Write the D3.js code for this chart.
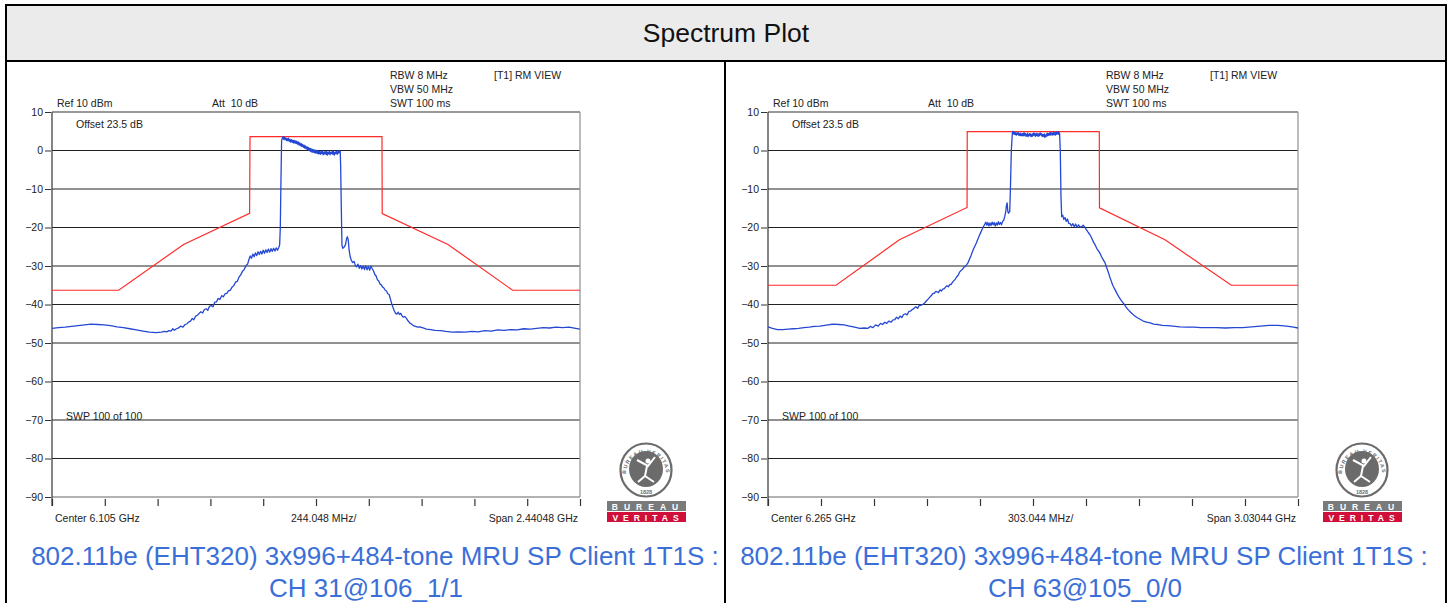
<!DOCTYPE html>
<html><head><meta charset="utf-8">
<script src="https://cdn.jsdelivr.net/npm/d3@7"></script>
<style>
body{margin:0;background:#fff;}
svg{display:block;font-family:"Liberation Sans",Arial,Helvetica,sans-serif;}
</style>
</head><body>
<svg id="chart" width="1450" height="603"></svg>
<script>
// ---------------- DATA ----------------
const chartTitle = "Spectrum Plot";
const yTickValues = [10, 0, -10, -20, -30, -40, -50, -60, -70, -80, -90];
const centerLabels = ["Center 6.105 GHz", "Center 6.265 GHz"];
const perDivLabels = ["244.048 MHz/", "303.044 MHz/"];
const spanLabels = ["Span 2.44048 GHz", "Span 3.03044 GHz"];
const spansMHz = [2440.48, 3030.44];
const captionLine1 = ["802.11be (EHT320) 3x996+484-tone MRU SP Client 1T1S :", "802.11be (EHT320) 3x996+484-tone MRU SP Client 1T1S :"];
const captionLine2 = ["CH 31@106_1/1", "CH 63@105_0/0"];
const infoLeft = ["Ref 10 dBm", "Att  10 dB", "Offset 23.5 dB", "SWP 100 of 100"];
const infoRight = ["RBW 8 MHz", "VBW 50 MHz", "SWT 100 ms", "[T1] RM VIEW"];

// limit masks: [offset from center MHz, dBm]
const maskLeft = [[-1220.24,-36.3],[-912,-36.3],[-612,-24.4],[-307,-16.3],[-305,3.6],[305,3.6],[306,-16.4],[610,-24.4],[909,-36.3],[1220.24,-36.3]];
const maskRight = [[-1515.22,-35.0],[-1126,-35.0],[-764,-23.2],[-377,-14.8],[-376,4.9],[379,4.9],[380,-14.9],[755,-23.2],[1134,-35.0],[1515.22,-35.0]];

// measured traces: [offset from center MHz, dBm]
const traceLeft = [[-1220,-46.2],[-1190,-46.0],[-1160,-45.9],[-1130,-45.7],[-1100,-45.5],[-1070,-45.3],[-1040,-45.1],[-1010,-45.2],[-980,-45.3],[-950,-45.5],[-920,-45.8],[-890,-46.0],[-860,-46.3],[-830,-46.6],[-800,-46.9],[-770,-47.2],[-740,-47.3],[-715,-47.2],[-700,-47.0],[-690,-47.1],[-680,-46.8],[-670,-46.9],[-662,-46.3],[-655,-46.7],[-645,-46.3],[-635,-46.1],[-625,-45.6],[-615,-45.9],[-605,-45.2],[-596,-45.0],[-588,-44.5],[-580,-44.3],[-572,-43.6],[-565,-44.0],[-556,-43.0],[-548,-42.8],[-540,-42.3],[-532,-41.9],[-524,-42.2],[-516,-41.3],[-508,-41.1],[-500,-41.5],[-492,-40.4],[-484,-40.3],[-476,-40.6],[-468,-39.4],[-460,-39.3],[-452,-38.4],[-444,-38.7],[-436,-37.7],[-428,-38.0],[-420,-37.2],[-412,-37.1],[-404,-36.4],[-396,-36.3],[-388,-35.5],[-380,-35.1],[-372,-34.2],[-364,-34.0],[-356,-32.9],[-348,-32.3],[-340,-31.4],[-332,-30.9],[-324,-29.9],[-316,-29.5],[-310,-28.3],[-304,-27.4],[-298,-28.0],[-292,-26.9],[-286,-27.6],[-280,-26.6],[-274,-27.3],[-268,-26.3],[-262,-27.0],[-256,-26.2],[-250,-26.9],[-244,-25.9],[-238,-26.7],[-232,-25.8],[-226,-26.5],[-220,-25.6],[-214,-26.4],[-208,-25.5],[-202,-26.2],[-196,-25.4],[-190,-26.1],[-184,-25.3],[-178,-25.9],[-172,-25.2],[-168,-24.5],[-165,-20],[-162,-8],[-159,2.5],[-155,3.3],[-152,3.6],[-149,2.9],[-146,3.4],[-143,2.8],[-140,3.3],[-136,2.6],[-133,3.1],[-130,2.5],[-127,3.2],[-123,2.4],[-120,2.9],[-117,2.2],[-114,2.8],[-110,2.1],[-107,2.7],[-104,2.0],[-101,2.6],[-97,1.9],[-94,2.5],[-91,1.8],[-88,2.4],[-84,1.6],[-81,2.2],[-78,1.4],[-75,2.0],[-71,1.2],[-68,1.8],[-65,1.0],[-62,1.6],[-58,0.8],[-55,1.4],[-52,0.6],[-49,1.2],[-45,0.4],[-42,1.0],[-39,0.2],[-36,0.8],[-32,0.0],[-29,0.6],[-26,-0.2],[-23,0.5],[-19,-0.4],[-16,0.3],[-13,-0.5],[-10,0.2],[-6,-0.6],[-3,0.1],[0,-0.7],[3,0.0],[7,-0.8],[10,-0.1],[13,-0.9],[16,-0.2],[20,-1.0],[23,-0.3],[26,-0.8],[29,-0.1],[33,-1.1],[36,-0.4],[39,-0.9],[42,-0.2],[46,-1.0],[49,-0.3],[52,-1.2],[55,-0.4],[59,-0.9],[62,-0.2],[65,-1.1],[68,-0.5],[72,-0.8],[75,-0.1],[78,-1.0],[81,-0.3],[85,-1.2],[88,-0.4],[91,-0.8],[94,-0.2],[98,-1.0],[101,-0.3],[104,-0.7],[107,0.0],[110,-0.6],[112,-0.2],[114,-4],[117,-15],[120,-24.6],[124,-25.4],[130,-25.1],[136,-24.5],[141,-23.0],[145,-22.4],[149,-23.2],[153,-25.8],[158,-27.6],[164,-28.6],[170,-29.1],[176,-28.8],[182,-29.9],[188,-30.2],[194,-29.5],[200,-30.6],[206,-29.9],[212,-30.8],[218,-30.0],[224,-30.9],[230,-29.9],[236,-31.0],[242,-30.1],[248,-31.1],[254,-30.0],[260,-30.7],[266,-31.3],[272,-32.2],[278,-32.6],[284,-33.6],[290,-33.9],[296,-34.7],[302,-34.9],[308,-35.5],[314,-35.7],[320,-36.3],[326,-36.5],[332,-37.2],[338,-37.4],[344,-38.6],[350,-39.8],[356,-40.8],[362,-41.7],[368,-42.3],[374,-42.5],[380,-42.0],[386,-42.6],[392,-42.3],[398,-43.0],[404,-43.3],[410,-43.1],[418,-43.6],[426,-44.3],[434,-44.8],[442,-45.1],[450,-45.5],[460,-45.7],[470,-45.9],[480,-45.8],[495,-46.1],[510,-46.4],[530,-46.5],[550,-46.7],[575,-46.8],[600,-47.0],[630,-47.2],[660,-47.1],[690,-47.2],[720,-47.0],[750,-47.1],[780,-46.8],[810,-46.9],[840,-46.6],[870,-46.7],[900,-46.5],[930,-46.6],[960,-46.3],[990,-46.4],[1020,-46.2],[1050,-46.0],[1080,-46.1],[1110,-45.9],[1140,-46.0],[1170,-45.9],[1200,-46.2],[1220,-46.4]];

const traceRight = [[-1515,-45.8],[-1490,-46.2],[-1460,-46.5],[-1430,-46.5],[-1400,-46.4],[-1370,-46.3],[-1340,-46.2],[-1310,-46.0],[-1280,-45.9],[-1250,-45.7],[-1220,-45.6],[-1190,-45.4],[-1160,-45.2],[-1140,-45.1],[-1110,-45.2],[-1080,-45.3],[-1050,-45.6],[-1020,-45.9],[-990,-46.2],[-965,-46.1],[-945,-46.2],[-930,-45.7],[-915,-46.0],[-900,-45.3],[-885,-45.6],[-872,-44.9],[-860,-45.2],[-848,-44.6],[-836,-44.9],[-824,-44.3],[-812,-44.6],[-800,-44.0],[-790,-43.9],[-780,-43.3],[-770,-43.7],[-760,-43.0],[-750,-43.4],[-740,-42.6],[-730,-42.4],[-720,-42.7],[-710,-41.8],[-700,-41.7],[-690,-41.3],[-680,-41.0],[-670,-40.6],[-660,-41.0],[-650,-40.2],[-640,-40.2],[-630,-40.0],[-620,-39.6],[-610,-39.1],[-600,-38.6],[-590,-38.1],[-580,-37.6],[-572,-37.1],[-564,-37.1],[-556,-36.6],[-548,-36.7],[-540,-36.9],[-532,-36.2],[-524,-36.5],[-516,-36.0],[-508,-35.9],[-500,-35.5],[-492,-35.1],[-484,-35.4],[-476,-34.8],[-468,-34.8],[-460,-34.2],[-452,-33.8],[-444,-33.4],[-436,-32.8],[-428,-32.4],[-420,-31.6],[-412,-31.2],[-404,-30.9],[-396,-30.4],[-388,-30.1],[-380,-29.7],[-372,-29.2],[-364,-28.3],[-356,-27.5],[-348,-26.5],[-340,-25.6],[-332,-24.8],[-324,-24.0],[-316,-23.1],[-308,-22.2],[-300,-21.4],[-292,-20.6],[-284,-19.8],[-276,-19.2],[-270,-18.6],[-264,-19.4],[-258,-18.7],[-252,-19.6],[-246,-18.8],[-240,-19.5],[-234,-18.6],[-228,-19.3],[-222,-18.7],[-216,-19.6],[-210,-18.8],[-204,-19.4],[-198,-18.5],[-192,-19.2],[-186,-18.7],[-180,-19.3],[-174,-18.4],[-168,-18.2],[-162,-17.2],[-156,-16.0],[-152,-14.3],[-148,-13.6],[-144,-15.8],[-140,-16.3],[-133,-15.8],[-128,-8],[-124,0],[-118,4.6],[-115,5.0],[-112,4.3],[-109,4.8],[-106,4.2],[-103,4.7],[-100,4.1],[-97,4.6],[-94,4.0],[-91,4.5],[-88,4.2],[-85,4.7],[-82,4.0],[-79,4.4],[-76,3.9],[-73,4.5],[-70,3.9],[-67,4.3],[-64,3.8],[-61,4.4],[-58,3.9],[-55,4.5],[-52,3.8],[-49,4.6],[-46,4.0],[-43,4.4],[-40,3.7],[-37,4.2],[-34,3.8],[-31,4.5],[-28,3.6],[-25,4.2],[-22,3.9],[-19,4.4],[-16,3.8],[-13,4.3],[-10,3.6],[-7,4.1],[-4,3.7],[-1,4.4],[2,3.9],[5,4.6],[8,4.0],[11,4.4],[14,3.7],[17,4.3],[20,3.9],[23,4.5],[26,3.8],[29,4.2],[32,3.7],[35,4.4],[38,3.9],[41,4.6],[44,4.1],[47,4.4],[50,3.8],[53,4.2],[56,3.6],[59,4.1],[62,3.7],[65,4.3],[68,3.4],[71,3.9],[74,3.6],[77,4.3],[80,3.8],[83,4.5],[86,3.9],[89,4.4],[92,4.0],[95,4.6],[98,4.0],[101,4.7],[104,4.1],[107,4.5],[110,4.0],[113,4.6],[116,4.1],[119,4.8],[122,4.1],[125,4.6],[128,4.0],[131,4.7],[134,4.2],[137,4.8],[140,4.3],[143,4.9],[146,4.2],[149,4.7],[152,4.4],[156,0],[160,-12],[164,-17.2],[170,-16.8],[176,-17.9],[183,-17.4],[190,-18.4],[197,-17.8],[204,-18.9],[212,-19.0],[220,-19.6],[228,-19.0],[236,-19.8],[244,-19.1],[252,-20.0],[260,-19.3],[269,-19.9],[278,-19.8],[287,-19.4],[297,-20.0],[306,-20.6],[316,-21.3],[326,-21.9],[336,-22.8],[346,-23.8],[355,-24.5],[364,-25.4],[373,-26.0],[383,-26.7],[392,-27.6],[402,-28.4],[412,-29.2],[422,-30.5],[432,-31.8],[440,-33.0],[448,-34.0],[456,-35.0],[464,-35.7],[472,-36.4],[482,-37.3],[492,-38.1],[502,-38.8],[512,-39.4],[522,-40.0],[532,-40.7],[545,-41.4],[558,-42.0],[572,-42.6],[586,-43.1],[600,-43.5],[615,-43.9],[630,-44.3],[650,-44.6],[670,-44.8],[690,-45.1],[715,-45.2],[740,-45.4],[770,-45.5],[800,-45.6],[840,-45.8],[880,-45.9],[920,-45.9],[960,-46.0],[1000,-46.0],[1050,-46.0],[1100,-46.1],[1150,-46.0],[1200,-46.0],[1250,-45.8],[1300,-45.6],[1350,-45.4],[1400,-45.4],[1450,-45.6],[1490,-45.9],[1515,-46.1]];

// ---------------- LAYOUT ----------------
const svg = d3.select("#chart");
const W = 1450, H = 603;
const frameL = 6, frameR = 1446, frameT = 5, headerB = 61, divX = 725;

// title band
svg.append("rect").attr("x", frameL).attr("y", frameT).attr("width", frameR - frameL).attr("height", headerB - frameT)
  .attr("fill", "#ebebeb").attr("stroke", "#000").attr("stroke-width", 2);
svg.append("text").attr("x", (frameL + frameR) / 2).attr("y", 42).attr("text-anchor", "middle")
  .attr("font-size", 26.5).attr("fill", "#111").text(chartTitle);
// cell borders
[[frameL, headerB, frameL, H], [divX, headerB, divX, H], [frameR, headerB, frameR, H]].forEach(d =>
  svg.append("line").attr("x1", d[0]).attr("y1", d[1]).attr("x2", d[2]).attr("y2", d[3]).attr("stroke", "#000").attr("stroke-width", 2));

const panels = [
  {origin: 0, plotL: 52, plotR: 580, span: spansMHz[0], mask: maskLeft, trace: traceLeft, cap1: 375, cap2: 366},
  {origin: 716, plotL: 768, plotR: 1298, span: spansMHz[1], mask: maskRight, trace: traceRight, cap1: 1084, cap2: 1085}
];

const y = d3.scaleLinear().domain([-90, 10]).range([497, 112]);

panels.forEach((p, i) => {
  const g = svg.append("g");
  const x = d3.scaleLinear().domain([-p.span / 2, p.span / 2]).range([p.plotL, p.plotR]);
  const fs = 10.5;

  // gridlines
  g.selectAll(".grid").data(yTickValues.filter(v => v < 10 && v > -90)).enter().append("line")
    .attr("x1", p.plotL).attr("x2", p.plotR).attr("y1", d => y(d)).attr("y2", d => y(d))
    .attr("stroke", "#222").attr("stroke-width", 1);
  // frame
  g.append("line").attr("x1", p.plotL).attr("x2", p.plotR).attr("y1", y(10)).attr("y2", y(10)).attr("stroke", "#333");
  g.append("line").attr("x1", p.plotL).attr("x2", p.plotR).attr("y1", y(-90)).attr("y2", y(-90)).attr("stroke", "#999").attr("stroke-width", 1.3);
  g.append("line").attr("x1", p.plotR).attr("x2", p.plotR).attr("y1", y(10)).attr("y2", y(-90)).attr("stroke", "#999").attr("stroke-width", 1.3);
  g.append("line").attr("x1", p.plotL).attr("x2", p.plotL).attr("y1", y(10)).attr("y2", y(-90) + 9).attr("stroke", "#333").attr("stroke-width", 1.2);

  // y axis (left ticks + labels)
  const yAxis = d3.axisLeft(y).tickValues(yTickValues).tickSize(6).tickPadding(2).tickFormat(d3.format("d"));
  const ya = g.append("g").attr("transform", `translate(${p.plotL - 1},0)`).call(yAxis);
  ya.select(".domain").remove();
  ya.selectAll("line").attr("stroke", "#333");
  ya.selectAll("text").attr("font-size", fs).attr("fill", "#222").attr("font-family", "Liberation Sans, Arial, sans-serif");

  // x axis ticks
  const xTicks = d3.range(0, 11).map(k => -p.span / 2 + k * p.span / 10);
  const xAxis = d3.axisBottom(x).tickValues(xTicks).tickSize(7).tickFormat("");
  const xa = g.append("g").attr("transform", `translate(0,${y(-90) + 2})`).call(xAxis);
  xa.select(".domain").remove();
  xa.selectAll("line").attr("stroke", "#333").attr("stroke-width", 1.2);

  // mask and trace
  const line = d3.line().x(d => x(d[0])).y(d => y(d[1]));
  g.append("path").datum(p.mask).attr("d", line).attr("fill", "none").attr("stroke", "#ff2a2a").attr("stroke-width", 1.2);
  g.append("path").datum(p.trace).attr("d", line).attr("fill", "none").attr("stroke", "#2447d4").attr("stroke-width", 1.3).attr("stroke-linejoin", "round");

  // annotation texts
  const t = (tx, ty, s, anchor) => g.append("text").attr("x", tx).attr("y", ty).attr("font-size", fs).attr("fill", "#222")
    .attr("text-anchor", anchor || "start").text(s);
  t(p.plotL + 5, 107, infoLeft[0]);
  t(p.plotL + 160, 107, infoLeft[1]).style("white-space", "pre");
  t(p.plotL + 24, 128, infoLeft[2]);
  t(p.plotL + 14, 420, infoLeft[3]);
  t(p.plotL + 338, 79, infoRight[0]);
  t(p.plotL + 338, 93, infoRight[1]);
  t(p.plotL + 338, 107, infoRight[2]);
  t(p.plotL + 442, 79, infoRight[3]);
  t(p.plotL + 3, 522, centerLabels[i]);
  t((p.plotL + p.plotR) / 2 - 25, 522, perDivLabels[i]);
  t(p.plotR - 2, 522, spanLabels[i], "end");

  // logo (simplified Bureau Veritas seal)
  const lx = p.origin + 646, ly = 470;
  const grey = "#6b6b6b";
  g.append("ellipse").attr("cx", lx).attr("cy", ly).attr("rx", 25.5).attr("ry", 26.5).attr("fill", "#fff").attr("stroke", grey).attr("stroke-width", 2.2);
  g.append("ellipse").attr("cx", lx).attr("cy", ly - 1).attr("rx", 17).attr("ry", 18).attr("fill", grey);
  const arcId = "bvarc" + i;
  g.append("path").attr("id", arcId).attr("fill", "none")
    .attr("d", `M${lx - 20},${ly + 4} A20,21 0 0 1 ${lx + 20},${ly + 4}`);
  g.append("text").attr("font-size", 5.2).attr("font-weight", "bold").attr("fill", grey).attr("letter-spacing", 1.3)
    .append("textPath").attr("href", "#" + arcId).attr("startOffset", "50%").attr("text-anchor", "middle").text("BUREAU VERITAS");
  g.append("path").attr("d", `M${lx - 9},${ly - 10} L${lx + 2},${ly - 4} L${lx + 9},${ly - 13} M${lx + 1},${ly - 4} L${lx - 1},${ly + 6} L${lx - 8},${ly + 12} M${lx - 1},${ly + 6} L${lx + 8},${ly + 12}`)
    .attr("stroke", "#fff").attr("stroke-width", 2).attr("fill", "none");
  g.append("circle").attr("cx", lx + 2).attr("cy", ly - 9).attr("r", 2.5).attr("fill", "#fff");
  g.append("text").attr("x", lx).attr("y", ly + 23.5).attr("text-anchor", "middle").attr("font-size", 5.5).attr("fill", grey).attr("font-weight", "bold").text("1828");
  g.append("rect").attr("x", p.origin + 607).attr("y", 501).attr("width", 79).attr("height", 10).attr("fill", "#7a7a7a");
  g.append("rect").attr("x", p.origin + 607).attr("y", 512).attr("width", 79).attr("height", 10).attr("fill", "#d0103a");
  g.append("text").attr("x", lx + 2).attr("y", 509.5).attr("text-anchor", "middle").attr("font-size", 8.5).attr("font-weight", "bold").attr("fill", "#fff").attr("letter-spacing", 6).text("BUREAU");
  g.append("text").attr("x", lx + 2).attr("y", 520.5).attr("text-anchor", "middle").attr("font-size", 8.5).attr("font-weight", "bold").attr("fill", "#fff").attr("letter-spacing", 5).text("VERITAS");

  // captions
  g.append("text").attr("x", p.cap1).attr("y", 565).attr("text-anchor", "middle").attr("font-size", 26).attr("fill", "#3b6fd8").text(captionLine1[i]);
  g.append("text").attr("x", p.cap2).attr("y", 597).attr("text-anchor", "middle").attr("font-size", 26).attr("fill", "#3b6fd8").text(captionLine2[i]);
});
</script>
</body></html>
